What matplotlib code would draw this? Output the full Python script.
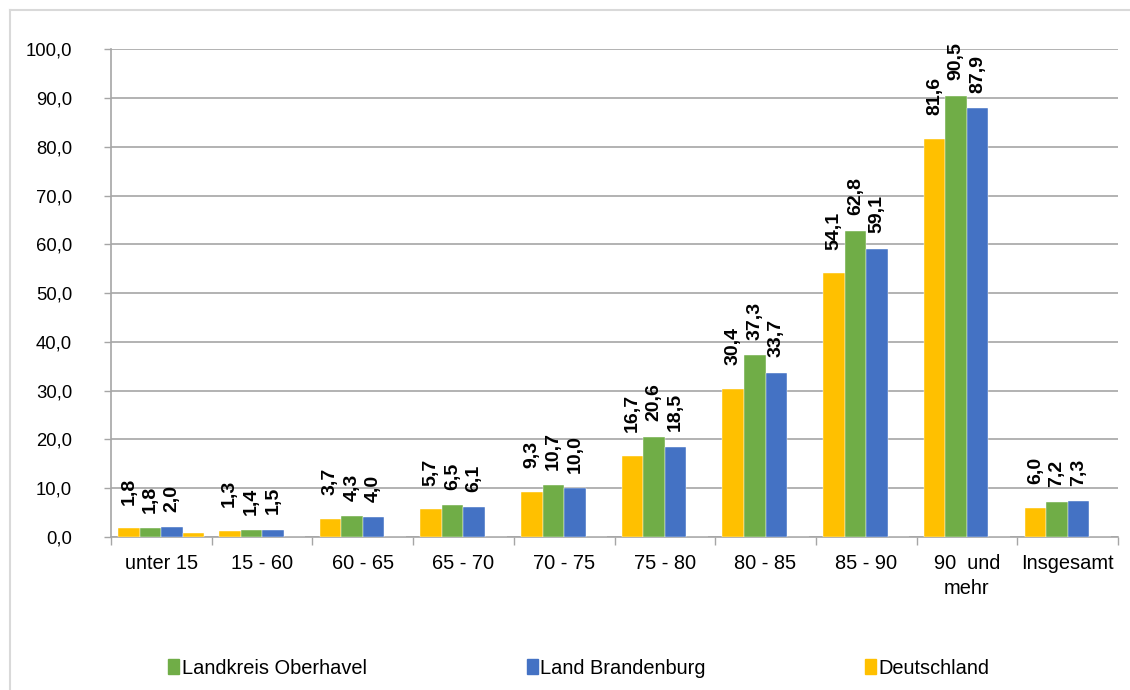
import numpy as np
import matplotlib
matplotlib.use("Agg")
from matplotlib import pyplot as plt
from matplotlib.patches import Rectangle
from matplotlib.lines import Line2D

plt.rcParams['font.family'] = ['Liberation Sans', 'DejaVu Sans']

# data
categories = ['unter 15', '15 - 60', '60 - 65', '65 - 70', '70 - 75', '75 - 80',
              '80 - 85', '85 - 90', '90  und\nmehr', 'Insgesamt']
deutschland = [1.8, 1.3, 3.7, 5.7, 9.3, 16.7, 30.4, 54.1, 81.6, 6.0]
oberhavel = [1.8, 1.4, 4.3, 6.5, 10.7, 20.6, 37.3, 62.8, 90.5, 7.2]
brandenburg = [2.0, 1.5, 4.0, 6.1, 10.0, 18.5, 33.7, 59.1, 87.9, 7.3]
extra = [0.8, 0, 0, 0, 0, 0, 0, 0, 0, 0]  # unlabeled small bar in first group

c_yellow = '#FFC000'
c_green = '#70AD47'
c_blue = '#4472C4'
grid_c = '#A6A6A6'

fig = plt.figure(figsize=(11.3, 6.9), dpi=100)
ax = fig.add_axes([111/1130, 1-537/690, 1007/1130, 487.7/690])

x = np.arange(len(categories))
w = 0.214
series = [(deutschland, c_yellow, -1.5, 17), (oberhavel, c_green, -0.5, 11),
          (brandenburg, c_blue, 0.5, 11)]
for vals, col, off, lab_off in series:
    bars = ax.bar(x + off*w, vals, w, color=col, edgecolor='white', linewidth=0.3, zorder=3)
    for b, v in zip(bars, vals):
        ax.annotate(f"{v:.1f}".replace('.', ','), (b.get_x() + b.get_width()/2, v),
                    xytext=(0, lab_off), textcoords='offset points', rotation=90,
                    ha='center', va='bottom', fontsize=14, fontweight='bold')
ax.bar(x + 1.5*w, extra, w, color=c_yellow, edgecolor='white', linewidth=0.3, zorder=3)

ax.set_xlim(-0.5, len(categories) - 0.5)
ax.set_ylim(0, 100)
ax.set_yticks(np.arange(0, 101, 10))
ax.set_yticklabels([f"{t:.1f}".replace('.', ',') for t in np.arange(0, 101, 10)], fontsize=13.3)
ax.yaxis.grid(True, color=grid_c, linewidth=1.2, zorder=0)
ax.tick_params(axis='y', length=5, width=1, color=grid_c, pad=23)

ax.set_xticks(np.arange(len(categories) + 1) - 0.5)
ax.set_xticklabels([])
ax.set_xticks(x, minor=True)
ax.set_xticklabels(categories, minor=True, fontsize=14.4, linespacing=1.45)
ax.tick_params(axis='x', which='major', length=6, width=1, color=grid_c)
ax.tick_params(axis='x', which='minor', length=0, pad=12)

for s in ['top', 'right']:
    ax.spines[s].set_visible(False)
for s in ['left', 'bottom']:
    ax.spines[s].set_color(grid_c)
    ax.spines[s].set_linewidth(1.2)

# legend
handles = [Rectangle((0, 0), 1, 1, color=c_green),
           Rectangle((0, 0), 1, 1, color=c_blue),
           Rectangle((0, 0), 1, 1, color=c_yellow)]
fig.legend(handles, ['Landkreis Oberhavel', 'Land Brandenburg', 'Deutschland'],
           loc='center', bbox_to_anchor=(0.5124, 1-668/690), ncol=3, frameon=False,
           fontsize=14.4, handlelength=0.55, handleheight=0.8, handletextpad=0.12,
           columnspacing=8.0)

# outer frame
fig.add_artist(Line2D([10/1130, 10/1130], [0, 1-10/690], color='#D9D9D9', linewidth=1.5))
fig.add_artist(Line2D([10/1130, 1], [1-10/690, 1-10/690], color='#D9D9D9', linewidth=1.5))

fig.savefig('out.png', dpi=100)
